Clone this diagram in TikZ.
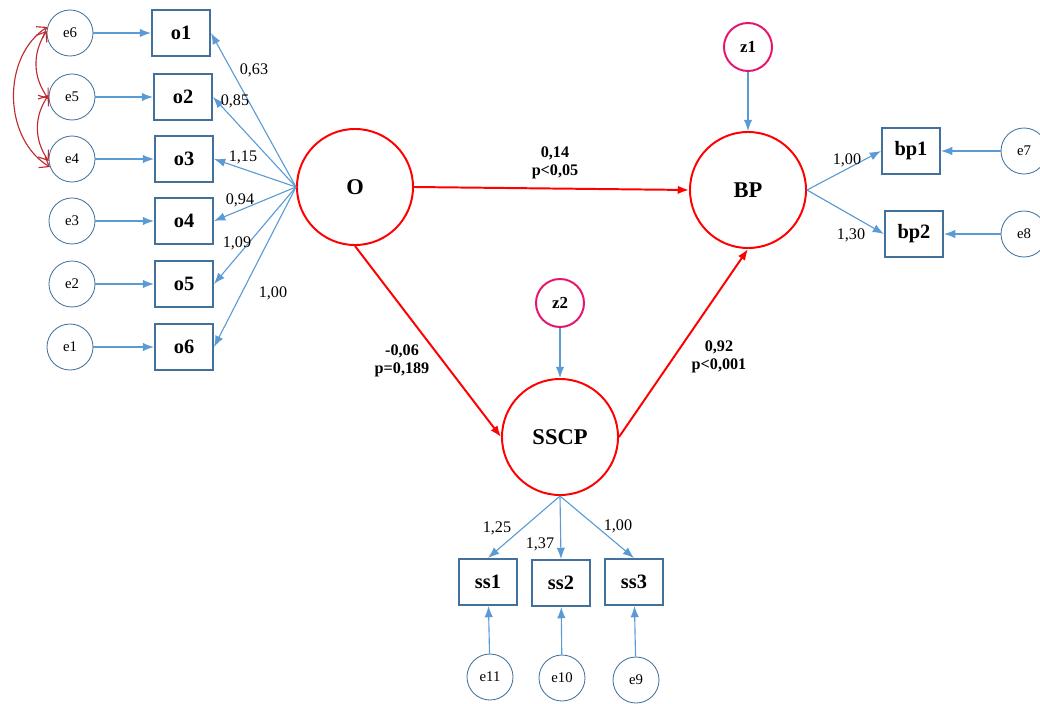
\documentclass[tikz,border=0pt]{standalone}
\usepackage{fontspec}
\setmainfont{Liberation Serif}
\usetikzlibrary{arrows.meta}
\definecolor{semblue}{RGB}{91,155,213}
\definecolor{boxblue}{RGB}{65,113,156}
\definecolor{zpink}{RGB}{230,20,110}
\definecolor{covred}{RGB}{192,40,50}
\tikzset{
  obs/.style={draw=boxblue, line width=1.4pt, minimum width=1.45cm, minimum height=1.15cm, inner sep=0pt, font=\fontsize{14.5}{16}\selectfont\bfseries},
  err/.style={circle, draw=boxblue, line width=0.6pt, minimum size=1.15cm, inner sep=0pt, font=\fontsize{10.5}{12}\selectfont},
  latent/.style={circle, draw=red, line width=1.4pt, minimum size=2.9cm, inner sep=0pt, font=\fontsize{16}{18}\selectfont\bfseries},
  dist/.style={circle, draw=zpink, line width=1.4pt, minimum size=1.2cm, inner sep=0pt, font=\fontsize{12}{14}\selectfont\bfseries},
  load/.style={draw=semblue, line width=0.8pt, -{Latex[length=8pt,width=6pt]}},
  regpath/.style={draw=red, line width=1.4pt, -{Latex[length=8pt,width=6pt]}},
  cov/.style={draw=covred, line width=0.8pt, {Straight Barb[length=6pt,width=9pt]}-{Straight Barb[length=6pt,width=9pt]}},
  est/.style={font=\fontsize{11.5}{13}\selectfont, inner sep=1pt},
  coef/.style={font=\fontsize{11.5}{13}\selectfont\bfseries, align=center, inner sep=1pt},
}
\begin{document}
\begin{tikzpicture}[x=0.025cm, y=-0.025cm]
    \useasboundingbox (0,0) rectangle (1040,704);

    % latent variables
    \node[latent] (O) at (355, 187) {O};
    \node[latent] (BP) at (748, 190) {BP};
    \node[latent] (SSCP) at (560, 437) {SSCP};
    \node[dist] (z1) at (748, 47) {z1};
    \node[dist] (z2) at (560, 303) {z2};

    % indicators of O
    \node[obs] (o1) at (181, 33) {o1};
    \node[obs] (o2) at (183, 97) {o2};
    \node[obs] (o3) at (184, 159) {o3};
    \node[obs] (o4) at (184, 221) {o4};
    \node[obs] (o5) at (184, 284) {o5};
    \node[obs] (o6) at (184, 347) {o6};
    \node[err] (e6) at (70, 33) {e6};
    \node[err] (e5) at (72, 97) {e5};
    \node[err] (e4) at (72, 159) {e4};
    \node[err] (e3) at (72, 221) {e3};
    \node[err] (e2) at (72, 284) {e2};
    \node[err] (e1) at (70, 347) {e1};

    % indicators of BP
    \node[obs] (bp1) at (911, 151) {bp1};
    \node[obs] (bp2) at (914, 234) {bp2};
    \node[err] (e7) at (1024, 151) {e7};
    \node[err] (e8) at (1024, 234) {e8};

    % indicators of SSCP
    \node[obs] (ss1) at (488, 582) {ss1};
    \node[obs] (ss2) at (561, 583) {ss2};
    \node[obs] (ss3) at (634, 582) {ss3};
    \node[err] (e11) at (490, 677) {e11};
    \node[err] (e10) at (562, 678) {e10};
    \node[err] (e9) at (636, 680) {e9};

    % measurement paths
    \draw[load] (O.west) -- (o1.east);
    \draw[load] (O.west) -- (o2.east);
    \draw[load] (O.west) -- (o3.east);
    \draw[load] (O.west) -- (o4.east);
    \draw[load] (O.west) -- (o5.east);
    \draw[load] (O.west) -- (o6.east);
    \node[est] (l1) at (254, 70) {0,63};
    \node[est] (l2) at (235, 101) {0,85};
    \node[est] (l3) at (243, 157) {1,15};
    \node[est] (l4) at (240, 200) {0,94};
    \node[est] (l5) at (237, 243) {1,09};
    \node[est] (l6) at (273, 293) {1,00};

    \draw[load] (e6) -- (o1);
    \draw[load] (e5) -- (o2);
    \draw[load] (e4) -- (o3);
    \draw[load] (e3) -- (o4);
    \draw[load] (e2) -- (o5);
    \draw[load] (e1) -- (o6);

    \draw[cov] (e6.175) to[bend right=35] (e5.185);
    \draw[cov] (e5.175) to[bend right=35] (e4.185);
    \draw[cov] (e6.165) to[bend right=58] (e4.200);

    \draw[load] (BP.east) -- (bp1.west);
    \draw[load] (BP.east) -- (bp2.west);
    \node[est] (l7) at (847, 160) {1,00};
    \node[est] (l8) at (851, 235) {1,30};
    \draw[load] (e7) -- (bp1);
    \draw[load] (e8) -- (bp2);

    \draw[load] (SSCP.south) -- (ss1.north);
    \draw[load] (SSCP.south) -- (ss2.north);
    \draw[load] (SSCP.south) -- (ss3.north);
    \node[est] (l9) at (497, 528) {1,25};
    \node[est] (l10) at (540, 544) {1,37};
    \node[est] (l11) at (618, 526) {1,00};
    \draw[load] (e11) -- (ss1);
    \draw[load] (e10) -- (ss2);
    \draw[load] (e9) -- (ss3);

    % disturbances
    \draw[load] (z1) -- (BP);
    \draw[load] (z2) -- (SSCP);

    % structural paths
    \draw[regpath] (O.east) -- (BP.west);
    \draw[regpath] (O.south) -- (SSCP.west);
    \draw[regpath] (SSCP.east) -- (BP.south);
    \node[coef] (c1) at (555, 163) {0,14\\p<0,05};
    \node[coef] (c2) at (402, 361) {-0,06\\p=0,189};
    \node[coef] (c3) at (719, 357) {0,92\\p<0,001};
\end{tikzpicture}
\end{document}
